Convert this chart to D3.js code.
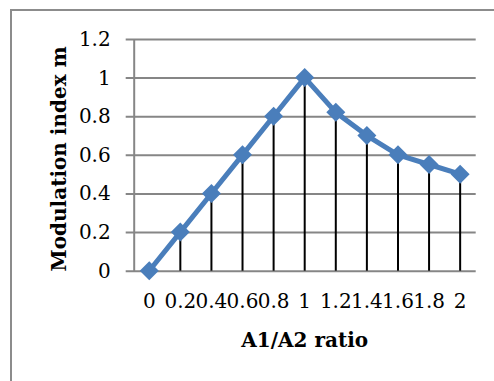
<!DOCTYPE html>
<html><head><meta charset="utf-8">
<script src="https://cdn.jsdelivr.net/npm/d3@7"></script>
<style>html,body{margin:0;padding:0;background:#fff;}svg{display:block;}</style>
</head><body>
<script>
const categories = ["0","0.2","0.4","0.6","0.8","1","1.2","1.4","1.6","1.8","2"];
const values = [0, 0.2, 0.4, 0.6, 0.8, 1.0, 0.82, 0.7, 0.6, 0.55, 0.5];
const yTicks = [0, 0.2, 0.4, 0.6, 0.8, 1, 1.2];
const yTitle = "Modulation index m";
const xTitle = "A1/A2 ratio";

const W = 494, H = 381;
const m = {left: 133.7, right: 494 - 475.7, top: 39, bottom: 381 - 270.7};
const font = "'DejaVu Serif', 'Liberation Serif', serif";
const fs = 20;

const svg = d3.select("body").append("svg").attr("width", W).attr("height", H);

// outer frame
svg.append("path").attr("d", `M11,${H} L11,10 L${W},10`)
  .attr("fill", "none").attr("stroke", "#8c8c8c").attr("stroke-width", 2);

const x = d3.scaleBand().domain(categories).range([m.left, W - m.right]);
const y = d3.scaleLinear().domain([0, 1.2]).range([H - m.bottom, m.top]);

// gridlines + y axis
const yAxis = d3.axisLeft(y).tickValues(yTicks).tickFormat(d3.format("~g"))
  .tickSize(-(W - m.right - m.left)).tickSizeOuter(0).tickPadding(23);
const gy = svg.append("g").attr("transform", `translate(${m.left},0)`).call(yAxis);
gy.select(".domain").attr("stroke", "#868686").attr("stroke-width", 2);
gy.selectAll(".tick line").attr("stroke", "#868686").attr("stroke-width", 2).attr("x1", -8);
gy.selectAll(".tick text").attr("font-family", font).attr("font-size", fs).attr("fill", "#000");

// x axis labels
const xAxis = d3.axisBottom(x).tickSize(0).tickPadding(23);
const gx = svg.append("g").attr("transform", `translate(0,${H - m.bottom})`).call(xAxis);
gx.select(".domain").remove();
gx.selectAll(".tick text").attr("font-family", font).attr("font-size", fs).attr("fill", "#000");

const cx = d => x(d) + x.bandwidth() / 2;

// drop lines
svg.append("g").selectAll("line").data(values).join("line")
  .attr("x1", (d, i) => cx(categories[i])).attr("x2", (d, i) => cx(categories[i]))
  .attr("y1", d => y(d)).attr("y2", y(0))
  .attr("stroke", "#000").attr("stroke-width", 2);

// line
const line = d3.line().x((d, i) => cx(categories[i])).y(d => y(d));
svg.append("path").datum(values).attr("d", line)
  .attr("fill", "none").attr("stroke", "#4a7ebb").attr("stroke-width", 5)
  .attr("stroke-linejoin", "round");

// markers
const r = 9.5;
svg.append("g").selectAll("path").data(values).join("path")
  .attr("d", (d, i) => {
    const px = cx(categories[i]), py = y(d);
    return `M${px},${py - r} L${px + r},${py} L${px},${py + r} L${px - r},${py} Z`;
  })
  .attr("fill", "#4a7ebb");

// titles
svg.append("text").attr("transform", `translate(66,${(39 + 270.7) / 2 + 4}) rotate(-90)`)
  .attr("text-anchor", "middle").attr("font-family", font).attr("font-weight", "bold")
  .attr("font-size", fs).text(yTitle);
svg.append("text").attr("x", (m.left + W - m.right) / 2).attr("y", 347)
  .attr("text-anchor", "middle").attr("font-family", font).attr("font-weight", "bold")
  .attr("font-size", fs).text(xTitle);
</script>
</body></html>
